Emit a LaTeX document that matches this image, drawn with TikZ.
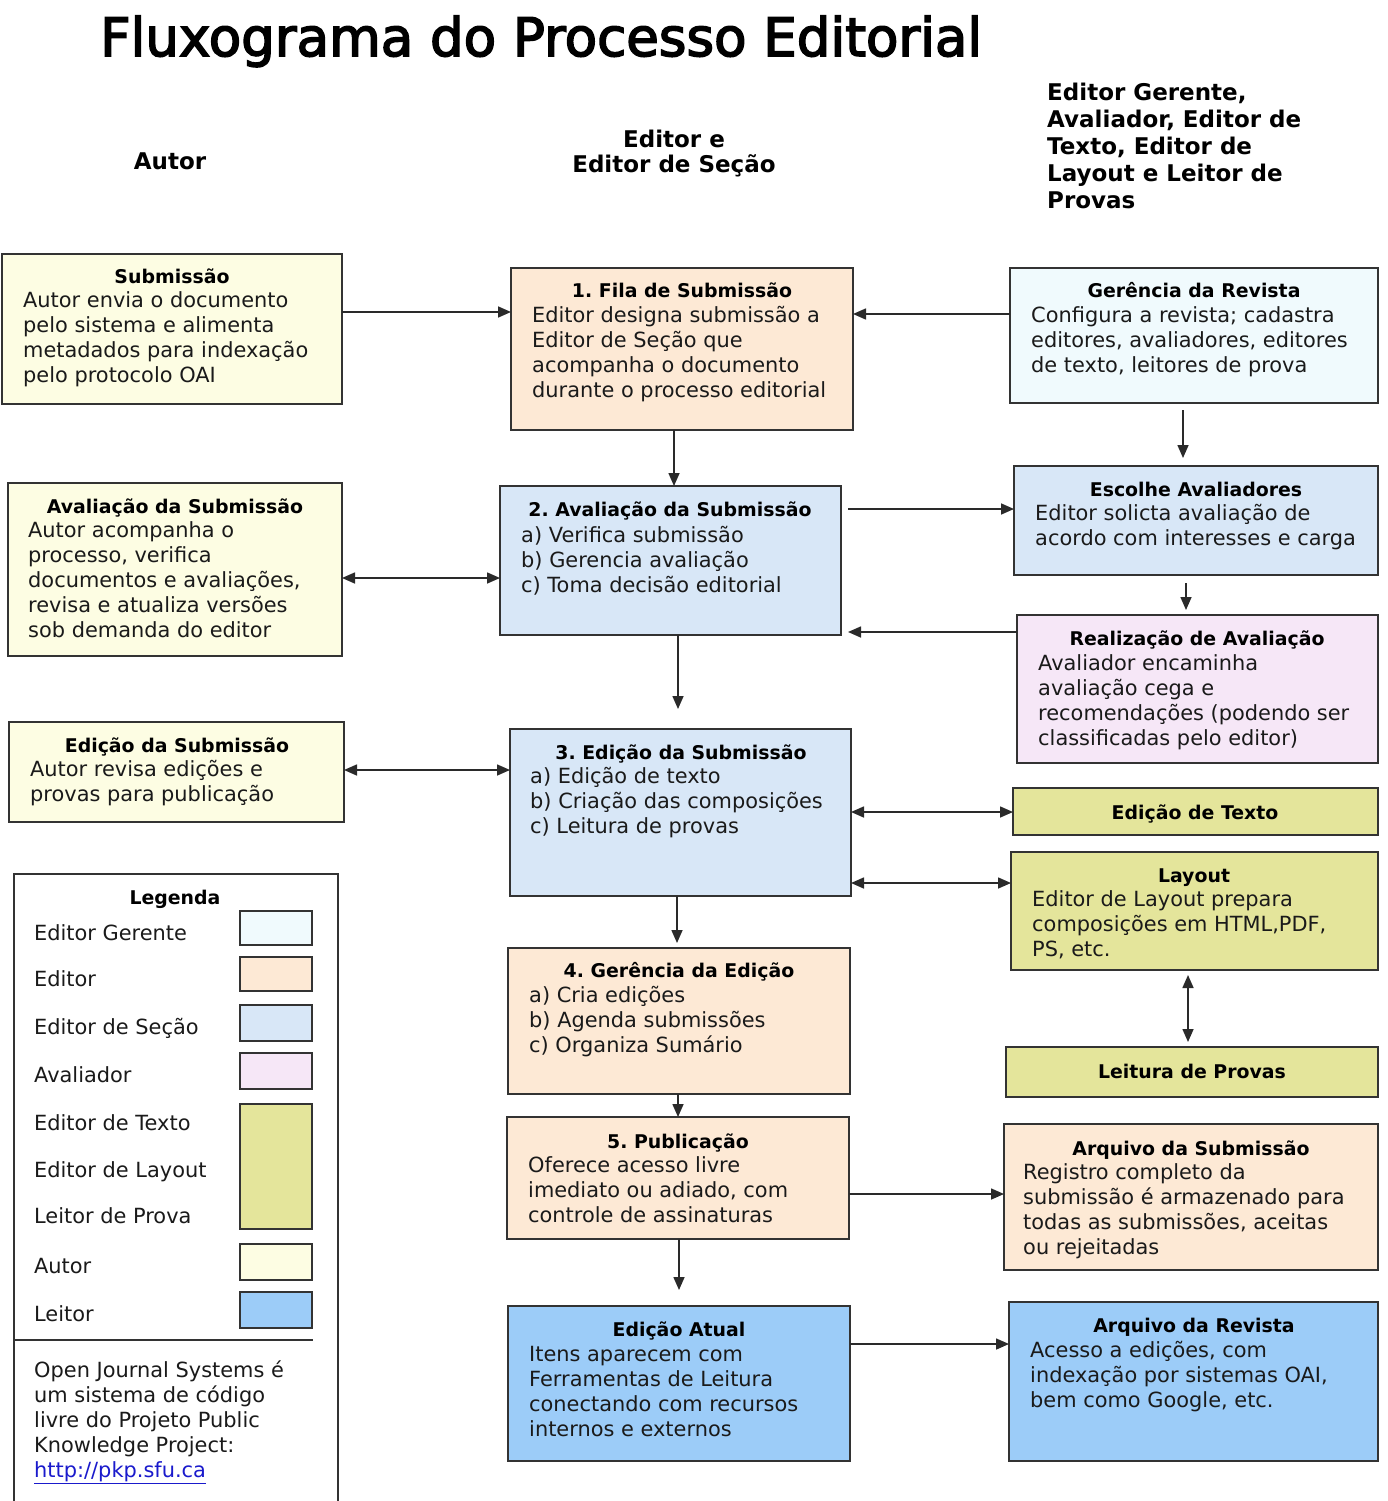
\documentclass[tikz,border=0pt]{standalone}
\usepackage{fontspec}
\setmainfont{DejaVu Sans}
\newfontfamily\titlefont[FakeBold=3]{DejaVu Sans}
\usetikzlibrary{arrows.meta}
\frenchspacing
\definecolor{cAutor}{HTML}{FDFDE3}
\definecolor{cEditor}{HTML}{FDE9D5}
\definecolor{cSecao}{HTML}{D8E7F7}
\definecolor{cAval}{HTML}{F6E7F7}
\definecolor{cText}{HTML}{E4E59B}
\definecolor{cLeitor}{HTML}{9CCCF8}
\definecolor{cGerente}{HTML}{F0FAFD}
\definecolor{boxline}{HTML}{333333}
\definecolor{arrline}{HTML}{2A2A2A}
\definecolor{txt}{HTML}{1A1A1A}
\definecolor{linkblue}{HTML}{1A1ACC}
\newcommand\mkbox[6]{\node[box,fill=#6,minimum width={#4-#2},minimum height={#5-#3}] (#1) at (#2,#3) {};}
\newcommand\lns[1]{\begin{tabular}[t]{@{}l@{}}#1\end{tabular}}
\newcommand\clns[1]{\begin{tabular}[t]{@{}c@{}}#1\end{tabular}}
\tikzset{
  box/.style={draw=boxline, line width=1.8pt, anchor=north west, inner sep=0pt, outer sep=0pt},
  swatch/.style={box, line width=1.5pt},
  ttl/.style={font=\bfseries\fontsize{18.9}{23}\selectfont, inner sep=0pt, anchor=base, text=black},
  body/.style={font=\fontsize{20.9}{25}\selectfont, inner sep=0pt, anchor=base west, text=txt},
  hdr/.style={font=\bfseries\fontsize{23}{27}\selectfont, inner sep=0pt, text=black},
  arr/.style={-{Triangle[length=13pt,width=11pt]}, line width=1.6pt, draw=arrline},
  darr/.style={{Triangle[length=13pt,width=11pt]}-{Triangle[length=13pt,width=11pt]}, line width=1.6pt, draw=arrline},
}
\begin{document}
\begin{tikzpicture}[x=1pt,y=-1pt]
\useasboundingbox[fill=white] (0,0) rectangle (1388,1501);

% headers
\node[font=\titlefont\fontsize{53}{60}\selectfont, inner sep=0pt, anchor=base west] (title) at (100,56) {Fluxograma do Processo Editorial};
\node[hdr, anchor=base] (hautor) at (170,169) {Autor};
\node[hdr, anchor=base, font=\bfseries\fontsize{23}{24}\selectfont] (heditor) at (674,147) {\clns{Editor e\\Editor de Seção}};
\node[hdr, anchor=base west] (houtros) at (1047,101) {\lns{Editor Gerente,\\Avaliador, Editor de\\Texto, Editor de\\Layout e Leitor de\\Provas}};

% left column (Autor)
\mkbox{sub}{2}{254}{342}{404}{cAutor}
\node[ttl] (sub-t) at (172,283) {Submissão};
\node[body] (sub-b) at (23,307) {\lns{Autor envia o documento\\pelo sistema e alimenta\\metadados para indexação\\pelo protocolo OAI}};

\mkbox{avalA}{8}{483}{342}{656}{cAutor}
\node[ttl] (avalA-t) at (175,513) {Avaliação da Submissão};
\node[body] (avalA-b) at (28,537) {\lns{Autor acompanha o\\processo, verifica\\documentos e avaliações,\\revisa e atualiza versões\\sob demanda do editor}};

\mkbox{edA}{9}{722}{344}{822}{cAutor}
\node[ttl] (edA-t) at (177,752) {Edição da Submissão};
\node[body] (edA-b) at (30,776) {\lns{Autor revisa edições e\\provas para publicação}};

% legend
\node[box, fill=white, minimum width=324, minimum height=660] (leg) at (14,874) {};
\node[ttl] (leg-t) at (175,904) {Legenda};
\node[body] (l1) at (34,940) {Editor Gerente};
\node[body] (l2) at (34,986) {Editor};
\node[body] (l3) at (34,1034) {Editor de Seção};
\node[body] (l4) at (34,1082) {Avaliador};
\node[body] (l5) at (34,1130) {Editor de Texto};
\node[body] (l6) at (34,1177) {Editor de Layout};
\node[body] (l7) at (34,1223) {Leitor de Prova};
\node[body] (l8) at (34,1273) {Autor};
\node[body] (l9) at (34,1321) {Leitor};
\node[swatch, fill=cGerente, minimum width=72, minimum height=34] (s1) at (240,911) {};
\node[swatch, fill=cEditor, minimum width=72, minimum height=34] (s2) at (240,957) {};
\node[swatch, fill=cSecao, minimum width=72, minimum height=36] (s3) at (240,1005) {};
\node[swatch, fill=cAval, minimum width=72, minimum height=36] (s4) at (240,1053) {};
\node[swatch, fill=cText, minimum width=72, minimum height=125] (s5) at (240,1104) {};
\node[swatch, fill=cAutor, minimum width=72, minimum height=36] (s6) at (240,1244) {};
\node[swatch, fill=cLeitor, minimum width=72, minimum height=36] (s7) at (240,1292) {};
\coordinate (divend) at (313,1340);
\draw[line width=1.6pt, draw=boxline] (leg.west |- divend) -- (divend);
\node[body] (foot) at (34,1377) {\lns{Open Journal Systems é\\um sistema de código\\livre do Projeto Public\\Knowledge Project:\\\textcolor{linkblue}{\underline{http://pkp.sfu.ca}}}};

% middle column
\mkbox{fila}{511}{268}{853}{430}{cEditor}
\node[ttl] (fila-t) at (682,297) {1. Fila de Submissão};
\node[body] (fila-b) at (532,322) {\lns{Editor designa submissão a\\Editor de Seção que\\acompanha o documento\\durante o processo editorial}};

\mkbox{aval2}{500}{486}{841}{635}{cSecao}
\node[ttl] (aval2-t) at (670,516) {2. Avaliação da Submissão};
\node[body] (aval2-b) at (521,542) {\lns{a) Verifica submissão\\b) Gerencia avaliação\\c) Toma decisão editorial}};

\mkbox{ed3}{510}{729}{851}{896}{cSecao}
\node[ttl] (ed3-t) at (681,759) {3. Edição da Submissão};
\node[body] (ed3-b) at (530,783) {\lns{a) Edição de texto\\b) Criação das composições\\c) Leitura de provas}};

\mkbox{ger4}{508}{948}{850}{1094}{cEditor}
\node[ttl] (ger4-t) at (679,977) {4. Gerência da Edição};
\node[body] (ger4-b) at (529,1002) {\lns{a) Cria edições\\b) Agenda submissões\\c) Organiza Sumário}};

\mkbox{pub5}{507}{1117}{849}{1239}{cEditor}
\node[ttl] (pub5-t) at (678,1148) {5. Publicação};
\node[body] (pub5-b) at (528,1172) {\lns{Oferece acesso livre\\imediato ou adiado, com\\controle de assinaturas}};

\mkbox{atual}{508}{1306}{850}{1461}{cLeitor}
\node[ttl] (atual-t) at (679,1336) {Edição Atual};
\node[body] (atual-b) at (529,1361) {\lns{Itens aparecem com\\Ferramentas de Leitura\\conectando com recursos\\internos e externos}};

% right column
\mkbox{gerrev}{1010}{268}{1378}{403}{cGerente}
\node[ttl] (gerrev-t) at (1194,297) {Gerência da Revista};
\node[body] (gerrev-b) at (1031,322) {\lns{Configura a revista; cadastra\\editores, avaliadores, editores\\de texto, leitores de prova}};

\mkbox{escolhe}{1014}{466}{1378}{575}{cSecao}
\node[ttl] (escolhe-t) at (1196,496) {Escolhe Avaliadores};
\node[body] (escolhe-b) at (1035,520) {\lns{Editor solicta avaliação de\\acordo com interesses e carga}};

\mkbox{realiz}{1017}{615}{1378}{763}{cAval}
\node[ttl] (realiz-t) at (1197,645) {Realização de Avaliação};
\node[body] (realiz-b) at (1038,670) {\lns{Avaliador encaminha\\avaliação cega e\\recomendações (podendo ser\\classificadas pelo editor)}};

\mkbox{edtexto}{1013}{788}{1378}{835}{cText}
\node[ttl] (edtexto-t) at (1195,819) {Edição de Texto};

\mkbox{layout}{1011}{852}{1378}{970}{cText}
\node[ttl] (layout-t) at (1194,882) {Layout};
\node[body] (layout-b) at (1032,906) {\lns{Editor de Layout prepara\\composições em HTML,PDF,\\PS, etc.}};

\mkbox{provas}{1006}{1047}{1378}{1097}{cText}
\node[ttl] (provas-t) at (1192,1078) {Leitura de Provas};

\mkbox{arqsub}{1004}{1124}{1378}{1270}{cEditor}
\node[ttl] (arqsub-t) at (1191,1155) {Arquivo da Submissão};
\node[body] (arqsub-b) at (1023,1179) {\lns{Registro completo da\\submissão é armazenado para\\todas as submissões, aceitas\\ou rejeitadas}};

\mkbox{arqrev}{1009}{1302}{1378}{1461}{cLeitor}
\node[ttl] (arqrev-t) at (1194,1332) {Arquivo da Revista};
\node[body] (arqrev-b) at (1030,1357) {\lns{Acesso a edições, com\\indexação por sistemas OAI,\\bem como Google, etc.}};

% connectors
\draw[arr] (sub.east |- 0,312) -- (fila.west |- 0,312);
\draw[arr] (gerrev.west |- 0,314) -- (fila.east |- 0,314);
\draw[arr] (fila.south -| 674,0) -- (aval2.north -| 674,0);
\draw[arr, shorten <=7pt, shorten >=8pt] (gerrev.south -| 1183,0) -- (escolhe.north -| 1183,0);
\draw[arr, shorten <=7pt] (aval2.east |- 0,509) -- (escolhe.west |- 0,509);
\draw[arr, shorten <=8pt, shorten >=5pt] (escolhe.south -| 1186,0) -- (realiz.north -| 1186,0);
\draw[arr, shorten >=7pt] (realiz.west |- 0,632) -- (aval2.east |- 0,632);
\draw[darr] (avalA.east |- 0,578) -- (aval2.west |- 0,578);
\draw[arr, shorten >=20pt] (aval2.south -| 678,0) -- (ed3.north -| 678,0);
\draw[darr] (edA.east |- 0,770) -- (ed3.west |- 0,770);
\draw[darr] (ed3.east |- 0,812) -- (edtexto.west |- 0,812);
\draw[darr] (ed3.east |- 0,883) -- (layout.west |- 0,883);
\draw[darr, shorten <=5pt, shorten >=5pt] (layout.south -| 1188,0) -- (provas.north -| 1188,0);
\draw[arr, shorten >=5pt] (ed3.south -| 677,0) -- (ger4.north -| 677,0);
\draw[arr] (ger4.south -| 678,0) -- (pub5.north -| 678,0);
\draw[arr] (pub5.east |- 0,1194) -- (arqsub.west |- 0,1194);
\draw[arr, shorten >=16pt] (pub5.south -| 679,0) -- (atual.north -| 679,0);
\draw[arr] (atual.east |- 0,1344) -- (arqrev.west |- 0,1344);
\end{tikzpicture}
\end{document}
